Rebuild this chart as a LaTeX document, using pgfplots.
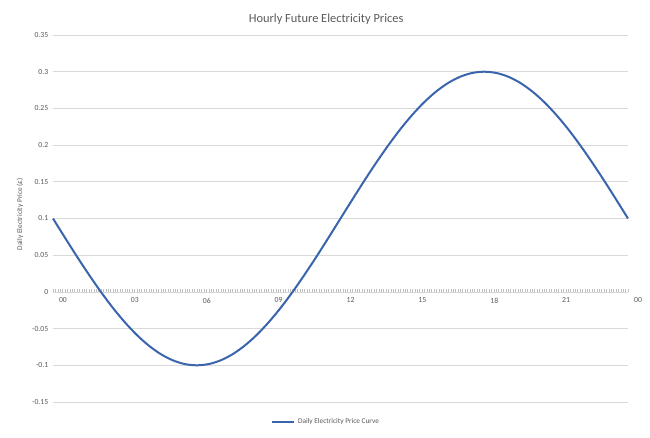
\documentclass[border=0pt]{standalone}
\usepackage{pgfplots}
\pgfplotsset{compat=1.18}
\usepackage{fontspec}
\setmainfont{Carlito}
\definecolor{txt}{RGB}{89,89,89}
\definecolor{gridc}{RGB}{217,217,217}
\definecolor{tickc}{RGB}{191,191,191}
\definecolor{curve}{RGB}{58,100,172}
\begin{document}
\begin{tikzpicture}
\useasboundingbox (-39.75pt,-26.25pt) rectangle (447.75pt,301.5pt);
\begin{axis}[
    scale only axis,
    width=431.25pt, height=275.25pt,
    xmin=0, xmax=24, ymin=-0.15, ymax=0.35,
    axis x line=middle,
    axis y line*=left,
    hide obscured x ticks=false,
    y axis line style={draw=none},
    x axis line style={gridc, line width=0.6pt, -},
    ytick={-0.15,-0.1,...,0.36},
    ymajorgrids,
    major grid style={gridc, line width=0.6pt},
    ytick style={draw=none},
    xtick={0,3,...,24},
    xticklabels={00,03,06,09,12,15,18,21,00},
    minor x tick num=29,
    xtick style={tickc, line width=0.3pt},
    major tick length=2.2pt, minor tick length=2.2pt,
    tick align=inside,
    x tick label style={xshift=7.5pt, yshift=-1pt},
    tick label style={font=\fontsize{5.8}{7}\selectfont, text=txt},
    /pgf/number format/assume math mode=true,
    yticklabel style={/pgf/number format/fixed, /pgf/number format/precision=2},
    title={Hourly Future Electricity Prices},
    title style={font=\fontsize{9.3}{11}\selectfont, text=txt, at={(0.475,1)}, anchor=center, yshift=6pt},
    ylabel={Daily Electricity Price (£)},
    ylabel style={font=\fontsize{5.5}{7}\selectfont, text=txt, at={(axis description cs:-0.0574,0.512)}, anchor=center},
    legend style={draw=none, fill=none, font=\fontsize{5.5}{7}\selectfont, text=txt,
        at={(0.475,0)}, anchor=center, yshift=-15pt},
    legend cell align=left,
    legend image post style={line width=1.5pt},
    clip=false,
]
\addplot[curve, line width=1.5pt, smooth] coordinates {
(0,0.1) (0.5,0.0739) (1,0.0482) (1.5,0.0235) (2,0) (2.5,-0.0218)
(3,-0.0414) (3.5,-0.0587) (4,-0.0732) (4.5,-0.0848) (5,-0.0932) (5.5,-0.0983)
(6,-0.1) (6.5,-0.0983) (7,-0.0932) (7.5,-0.0848) (8,-0.0732) (8.5,-0.0587)
(9,-0.0414) (9.5,-0.0218) (10,0) (10.5,0.0235) (11,0.0482) (11.5,0.0739)
(12,0.1) (12.5,0.1261) (13,0.1518) (13.5,0.1765) (14,0.2) (14.5,0.2218)
(15,0.2414) (15.5,0.2587) (16,0.2732) (16.5,0.2848) (17,0.2932) (17.5,0.2983)
(18,0.3) (18.5,0.2983) (19,0.2932) (19.5,0.2848) (20,0.2732) (20.5,0.2587)
(21,0.2414) (21.5,0.2218) (22,0.2) (22.5,0.1765) (23,0.1518) (23.5,0.1261)
(24,0.1)
};
\addlegendentry{Daily Electricity Price Curve}
\end{axis}
\end{tikzpicture}
\end{document}
